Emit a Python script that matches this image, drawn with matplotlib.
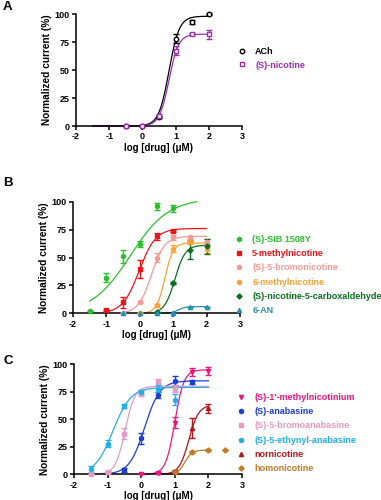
import numpy as np
import matplotlib
matplotlib.use("Agg")
import matplotlib.pyplot as plt

plt.rcParams['font.family'] = ['Liberation Sans', 'DejaVu Sans']
plt.rcParams['font.weight'] = 'bold'

W, H = 381, 500

# ---------------- data ----------------
# Panel A
a_names = ["ACh", "(S)-nicotine"]
a_x = [[-0.5, 0, 0.5, 1, 1.5, 2], [-0.5, 0, 0.5, 1, 1.5, 2]]
a_y = [[0, 0, 8, 78, 93, 100], [0, 0, 9, 67, 82, 82]]
a_err = [[0, 0, 1, 4, 2, 1], [0, 0, 2, 4, 1, 4]]
a_top = [98, 82]
a_ec50 = [0.8, 0.8]
a_hill = [2.8, 3.0]
a_range = [(-1.5, 2), (-1.5, 2)]
a_colors = ["#000000", "#9b2fae"]
a_markers = ["o", "s"]
a_fill = [False, False]

# Panel B
b_names = ["(S)-SIB 1508Y", "5-methylnicotine", "(S)-5-bromonicotine",
           "6-methylnicotine", "(S)-nicotine-5-carboxaldehyde", "6-AN"]
b_x = [[-1.5, -1, -0.5, 0, 0.5, 1],
       [-1, -0.5, 0, 0.5, 1],
       [-0.5, 0, 0.5, 1, 1.5, 2],
       [0, 0.5, 1, 1.5, 2],
       [0.5, 1, 1.5, 2],
       [-0.5, 0, 0.5, 1, 1.5, 2]]
b_y = [[2, 32, 51, 62, 96, 94],
       [3, 10, 40, 69, 74],
       [0, 10, 50, 68, 68, 64],
       [0, 7, 58, 64, 58],
       [1, 27, 57, 60],
       [0, 0, 0, 0, 6, 6]]
b_err = [[0, 4, 6, 3, 3, 3],
         [1, 5, 8, 3, 1],
         [0, 1, 4, 2, 1, 3],
         [0, 1, 3, 2, 4],
         [0, 1, 8, 7],
         [0, 0, 0, 0, 0, 0]]
b_top = [103, 76, 69, 63, 61, 6]
b_ec50 = [-0.29, -0.02, 0.35, 0.75, 1.05, 1.15]
b_hill = [0.76, 1.75, 2.2, 3.5, 2.8, 4.0]
b_range = [(-1.5, 1.7), (-1, 2), (-0.5, 2), (0, 2), (0.5, 2), (0.5, 2)]
b_colors = ["#2cc02c", "#e8141a", "#f59a9a", "#f7a338", "#0b6e1f", "#2a8fb0"]
b_markers = ["h", "s", "h", "h", "D", "^"]
b_fill = [True] * 6

# Panel C
c_names = ["(S)-1'-methylnicotinium", "(S)-anabasine", "(S)-5-bromoanabasine",
           "(S)-5-ethynyl-anabasine", "nornicotine", "homonicotine"]
c_x = [[0, 0.5, 1, 1.5, 2],
       [-0.5, 0, 0.5, 1, 1.5],
       [-1.5, -1, -0.5, 0, 0.5, 1],
       [-1.5, -1, -0.5, 0, 0.5, 1],
       [1, 1.5, 2],
       [1, 1.5, 2, 2.5]]
c_y = [[0, 1, 47, 93, 94],
       [4, 33, 72, 85, 84],
       [0, 2, 37, 74, 84, 78],
       [5, 28, 62, 75, 78, 68],
       [3, 42, 60],
       [2, 20, 22, 22]]
c_err = [[0, 1, 5, 4, 4],
         [2, 5, 3, 4, 2],
         [0, 1, 5, 3, 3, 3],
         [3, 3, 2, 2, 3, 5],
         [1, 9, 4],
         [0, 1, 1, 0]]
c_top = [95, 85, 80, 79, 63, 22]
c_ec50 = [1.0, 0.1, -0.48, -0.84, 1.42, 1.3]
c_hill = [3.2, 1.9, 3.0, 1.64, 3.0, 4.0]
c_range = [(0, 2), (-1, 2), (-1.5, 2), (-1.5, 2), (0.5, 2), (0.5, 2)]
c_colors = ["#e8187f", "#1b3fd6", "#e49cc2", "#22aee8", "#b3161c", "#c17a26"]
c_markers = ["v", "h", "s", "h", "^", "D"]
c_fill = [True] * 6

xticks = [-2, -1, 0, 1, 2, 3]
yticks = [0, 25, 50, 75, 100]


def hill(x, top, ec50, h):
    return top / (1 + 10 ** ((ec50 - x) * h))


fig = plt.figure(figsize=(W / 100, H / 100), dpi=100)


def px_axes(left, right, top, bottom):
    return fig.add_axes([left / W, 1 - bottom / H, (right - left) / W, (bottom - top) / H])


def panel(ax, names, xs, ys, errs, tops, ec50s, hills, ranges, colors, markers, fills,
          leg_anchor, labelspacing):
    handles = []
    for i in range(len(names)):
        col = colors[i]
        x0, x1 = ranges[i]
        xx = np.linspace(x0, x1, 300)
        ax.plot(xx, hill(xx, tops[i], ec50s[i], hills[i]), color=col, lw=0.9,
                clip_on=False, zorder=2)
        ms = 3.2 if markers[i] not in ("^", "v", "D") else 3.0
        if markers[i] == "D":
            ms = 2.6
        mfc = col if fills[i] else "white"
        ax.errorbar(xs[i], ys[i], yerr=errs[i], fmt="none", ecolor=col, elinewidth=1.0,
                    capsize=2.2, capthick=1.0, clip_on=False, zorder=3)
        h, = ax.plot(xs[i], ys[i], linestyle="none", marker=markers[i], ms=ms,
                     mfc=mfc, mec=col, mew=1.0, clip_on=False, zorder=4, label=names[i])
        handles.append(h)
    ax.set_xlim(-2, 3)
    ax.set_ylim(0, 100)
    ax.set_xticks(xticks)
    ax.set_xticklabels([str(t) for t in xticks])
    ax.set_yticks(yticks)
    for s in ("top", "right"):
        ax.spines[s].set_visible(False)
    for s in ("left", "bottom"):
        ax.spines[s].set_linewidth(1.1)
    ax.tick_params(direction="out", length=3, width=1.1, labelsize=6.5, pad=1.5)
    for lab in ax.get_xticklabels() + ax.get_yticklabels():
        lab.set_fontweight("bold")
    ax.set_xlabel("log [drug] (μM)", fontsize=7, fontweight="bold", labelpad=1)
    ax.set_ylabel("Normalized current (%)", fontsize=7.3, fontweight="bold", labelpad=2)
    leg = fig.legend(handles=handles, loc="upper left",
                     bbox_to_anchor=(leg_anchor[0] / W, 1 - leg_anchor[1] / H),
                     frameon=False, fontsize=6.5, handlelength=0.8, handletextpad=1.1,
                     labelspacing=labelspacing, borderpad=0, borderaxespad=0,
                     labelcolor="markeredgecolor", markerscale=1.0)
    for t in leg.get_texts():
        t.set_fontweight("bold")


axA = px_axes(76, 242, 14, 126)
panel(axA, a_names, a_x, a_y, a_err, a_top, a_ec50, a_hill, a_range, a_colors,
      a_markers, a_fill, (238, 47), 0.5)

axB = px_axes(73, 240, 201.7, 313.3)
panel(axB, b_names, b_x, b_y, b_err, b_top, b_ec50, b_hill, b_range, b_colors,
      b_markers, b_fill, (235, 235), 0.58)

axC = px_axes(74, 242, 364.3, 474.3)
panel(axC, c_names, c_x, c_y, c_err, c_top, c_ec50, c_hill, c_range, c_colors,
      c_markers, c_fill, (237, 393), 0.58)

for lab, yy in (("A", 7), ("B", 183), ("C", 361)):
    fig.text(3 / W, 1 - yy / H, lab, fontsize=9.5, fontweight="bold", va="center", ha="left")

fig.savefig("out.png", dpi=100)
